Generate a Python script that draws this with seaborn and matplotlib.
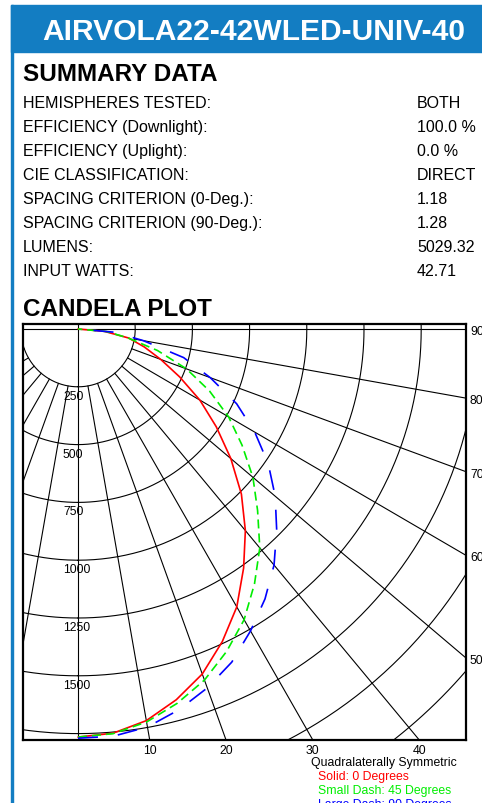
import numpy as np
import pandas as pd
import matplotlib
matplotlib.use('Agg')
import matplotlib.pyplot as plt
from matplotlib.patches import Rectangle
import seaborn as sns

# page text
title = 'AIRVOLA22-42WLED-UNIV-40'
summary_labels = ['HEMISPHERES TESTED:', 'EFFICIENCY (Downlight):', 'EFFICIENCY (Uplight):',
                  'CIE CLASSIFICATION:', 'SPACING CRITERION (0-Deg.):',
                  'SPACING CRITERION (90-Deg.):', 'LUMENS:', 'INPUT WATTS:']
summary_values = ['BOTH', '100.0 %', '0.0 %', 'DIRECT', '1.18', '1.28', '5029.32', '42.71']

# candela readings (cd) vs vertical angle, for the three planes
angles = [0, 5, 10, 15, 20, 25, 30, 35, 40, 45, 50, 55, 60, 65, 70, 75, 80, 85, 90]
cd_0 = [1765, 1755, 1720, 1660, 1588, 1492, 1388, 1262, 1138, 1010, 872, 738, 615, 490, 385, 300, 225, 115, 0]
cd_45 = [1765, 1757, 1726, 1676, 1616, 1538, 1452, 1345, 1236, 1110, 998, 875, 760, 634, 505, 360, 222, 125, 0]
cd_90 = [1770, 1768, 1748, 1705, 1652, 1590, 1508, 1425, 1333, 1228, 1125, 1015, 892, 765, 615, 478, 290, 160, 0]

planes = ['0', '45', '90']
plane_colors = ['#ff0000', '#00ee00', '#0000ff']
plane_dashes = ['', (5.4, 3), (12, 12)]

rings = [250, 500, 750, 1000, 1250, 1500, 1750, 2000, 2250]
ring_labels = [250, 500, 750, 1000, 1250, 1500]
spokes = [-80, -70, -60, -50, -40, -30, -20, -10, 10, 20, 30, 40, 50, 60, 70, 80]
bottom_labels = [10, 20, 30, 40]
side_labels = [50, 60, 70, 80, 90]
legend_head = 'Quadralaterally Symmetric'
legend_text = ['Solid: 0 Degrees', 'Small Dash: 45 Degrees', 'Large Dash: 90 Degrees']

W, H = 482, 804


def fx(px):
    return px / W


def fy(py):
    return 1 - py / H


sns.set_style('white')
plt.rcParams['font.family'] = ['Liberation Sans', 'DejaVu Sans']
plt.rcParams['text.color'] = 'black'

fig = plt.figure(figsize=(W / 100, H / 100), dpi=100)
blue = '#137dc2'
fig.patches.append(Rectangle((fx(11), fy(53)), (W - 11) / W, 47 / H,
                             transform=fig.transFigure, color=blue, zorder=0))
fig.patches.append(Rectangle((fx(11), 0), 2 / W, fy(6),
                             transform=fig.transFigure, color=blue, zorder=0))
fig.text(fx(42), fy(40), title, color='white', fontsize=21.6, fontweight='bold', va='baseline')
fig.text(fx(23), fy(81), 'SUMMARY DATA', fontsize=17.5, fontweight='bold', va='baseline')
for i, (lab, val) in enumerate(zip(summary_labels, summary_values)):
    y = 108.3 + 24 * i
    fig.text(fx(23), fy(y), lab, fontsize=11.5, va='baseline')
    fig.text(fx(417), fy(y), val, fontsize=11.5, va='baseline')
fig.text(fx(23), fy(316), 'CANDELA PLOT', fontsize=17.5, fontweight='bold', va='baseline')

# candela plot box, origin of the polar grid sits near the top left
ox, oy = 78, 330
sx, sy = 57.2 / 250, 57.8 / 250
left, right, top, bottom = 22.5, 466, 324.5, 741
ax = fig.add_axes([fx(left), fy(bottom), (right - left) / W, (bottom - top) / H])

t = np.linspace(0, 2 * np.pi, 721)
for r in rings:
    ax.plot(r * np.sin(t), r * np.cos(t), color='black', lw=0.8, zorder=1)
for a in spokes:
    rad = np.radians(a)
    ax.plot([250 * np.sin(rad), 4000 * np.sin(rad)], [250 * np.cos(rad), 4000 * np.cos(rad)],
            color='black', lw=0.8, zorder=1)
ax.axhline(0, color='black', lw=0.8, zorder=1)
ax.axvline(0, color='black', lw=0.8, zorder=1)

frames = []
for name, vals in zip(planes, [cd_0, cd_45, cd_90]):
    th = np.radians(angles)
    v = np.array(vals, dtype=float)
    frames.append(pd.DataFrame({'plane': name, 'x': v * np.sin(th), 'y': v * np.cos(th)}))
df = pd.concat(frames, ignore_index=True)
sns.lineplot(data=df, x='x', y='y', hue='plane', style='plane',
             palette=dict(zip(planes, plane_colors)), dashes=dict(zip(planes, plane_dashes)),
             sort=False, estimator=None, legend=False, lw=1.2, ax=ax, zorder=3)

xmin, xmax = (left - ox) / sx, (right - ox) / sx
ymax, ymin = (bottom - oy) / sy, (top - oy) / sy
ax.set_xlim(xmin, xmax)
ax.set_ylim(ymax, ymin)
ax.set(xlabel='', ylabel='', xticks=[], yticks=[])
for s in ax.spines.values():
    s.set_linewidth(1.6)
    s.set_color('black')

for r in ring_labels:
    ax.text((63 - ox) / sx, r + 12 / sy, str(r), fontsize=8.8, va='baseline', ha='left')
for a in bottom_labels:
    ax.text(ymax * np.tan(np.radians(a)), (754 - oy) / sy, str(a), fontsize=8.8,
            ha='center', va='baseline', clip_on=False)
for a in side_labels:
    rad = np.radians(a)
    ax.text((470 - ox) / sx, xmax * np.cos(rad) / np.sin(rad) + 2 / sy, str(a), fontsize=8.8,
            ha='left', va='center', clip_on=False)

fig.text(fx(311), fy(766), legend_head, fontsize=8.8, va='baseline')
for i, (txt, c) in enumerate(zip(legend_text, plane_colors)):
    fig.text(fx(318), fy(780 + 14.2 * i), txt, fontsize=8.8, color=c, va='baseline')

fig.savefig('out.png', dpi=100)
